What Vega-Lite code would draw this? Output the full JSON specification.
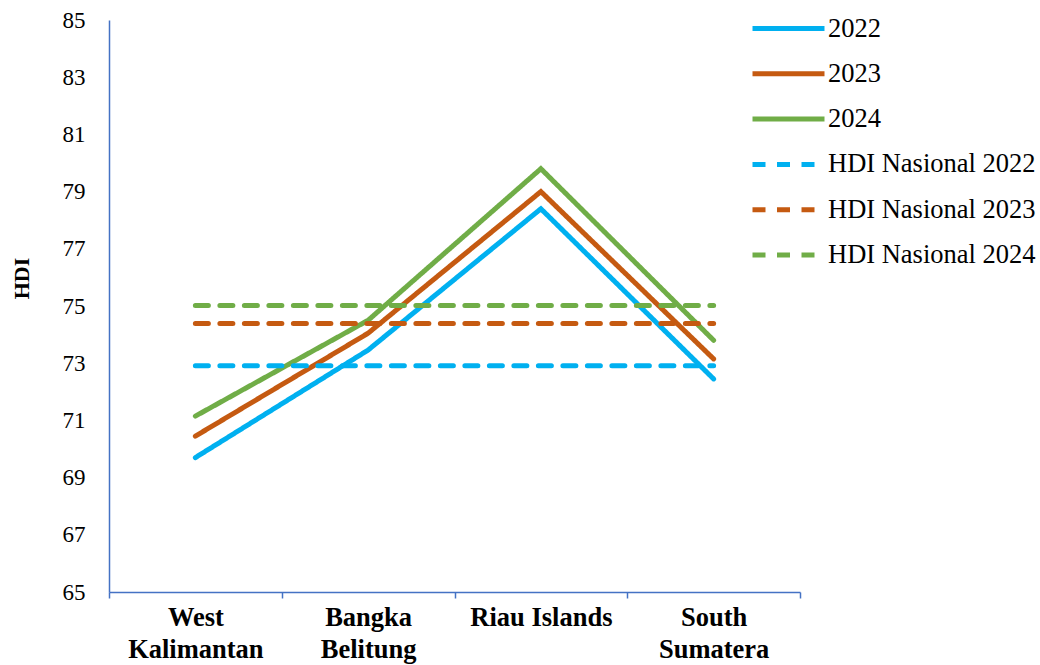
{
  "$schema": "https://vega.github.io/schema/vega-lite/v6.json",
  "width": 691,
  "height": 572,
  "autosize": {"type": "none"},
  "padding": {"left": 109, "top": 20, "right": 240, "bottom": 73},
  "background": "white",
  "config": {
    "view": {"stroke": null},
    "font": "Times New Roman, Liberation Serif, serif"
  },
  "data": {
    "values": [
      {"region": "West Kalimantan", "series": "2022", "hdi": 69.7},
      {"region": "Bangka Belitung", "series": "2022", "hdi": 73.46},
      {"region": "Riau Islands", "series": "2022", "hdi": 78.4},
      {"region": "South Sumatera", "series": "2022", "hdi": 72.45},
      {"region": "West Kalimantan", "series": "2023", "hdi": 70.45},
      {"region": "Bangka Belitung", "series": "2023", "hdi": 74.05},
      {"region": "Riau Islands", "series": "2023", "hdi": 79.0},
      {"region": "South Sumatera", "series": "2023", "hdi": 73.15},
      {"region": "West Kalimantan", "series": "2024", "hdi": 71.15},
      {"region": "Bangka Belitung", "series": "2024", "hdi": 74.5},
      {"region": "Riau Islands", "series": "2024", "hdi": 79.8},
      {"region": "South Sumatera", "series": "2024", "hdi": 73.8},
      {"region": "West Kalimantan", "series": "HDI Nasional 2022", "hdi": 72.91},
      {"region": "Bangka Belitung", "series": "HDI Nasional 2022", "hdi": 72.91},
      {"region": "Riau Islands", "series": "HDI Nasional 2022", "hdi": 72.91},
      {"region": "South Sumatera", "series": "HDI Nasional 2022", "hdi": 72.91},
      {"region": "West Kalimantan", "series": "HDI Nasional 2023", "hdi": 74.39},
      {"region": "Bangka Belitung", "series": "HDI Nasional 2023", "hdi": 74.39},
      {"region": "Riau Islands", "series": "HDI Nasional 2023", "hdi": 74.39},
      {"region": "South Sumatera", "series": "HDI Nasional 2023", "hdi": 74.39},
      {"region": "West Kalimantan", "series": "HDI Nasional 2024", "hdi": 75.02},
      {"region": "Bangka Belitung", "series": "HDI Nasional 2024", "hdi": 75.02},
      {"region": "Riau Islands", "series": "HDI Nasional 2024", "hdi": 75.02},
      {"region": "South Sumatera", "series": "HDI Nasional 2024", "hdi": 75.02}
    ]
  },
  "mark": {"type": "line", "strokeWidth": 5, "strokeCap": "round", "strokeJoin": "miter"},
  "encoding": {
    "x": {
      "field": "region",
      "type": "nominal",
      "sort": ["West Kalimantan", "Bangka Belitung", "Riau Islands", "South Sumatera"],
      "bandPosition": 0.5,
      "scale": {"type": "band", "paddingInner": 0, "paddingOuter": 0},
      "axis": {
        "title": null,
        "labelAngle": 0,
        "labelFont": "Times New Roman, Liberation Serif, serif",
        "labelFontSize": 26.5,
        "labelFontWeight": "bold",
        "labelColor": "#000000",
        "labelLineHeight": 32,
        "labelPadding": 6,
        "labelBaseline": "top",
        "labelExpr": "datum.label == 'Riau Islands' ? datum.label : split(datum.label, ' ')",
        "tickBand": "extent",
        "tickSize": 6,
        "tickWidth": 1.5,
        "tickColor": "#4472C4",
        "domainColor": "#4472C4",
        "domainWidth": 1.5,
        "grid": false
      }
    },
    "y": {
      "field": "hdi",
      "type": "quantitative",
      "scale": {"domain": [65, 85], "zero": false, "nice": false},
      "axis": {
        "title": "HDI",
        "titleFont": "Times New Roman, Liberation Serif, serif",
        "titleFontSize": 22,
        "titleFontWeight": "bold",
        "titleColor": "#000000",
        "titlePadding": 29,
        "titleY": 258,
        "values": [65, 67, 69, 71, 73, 75, 77, 79, 81, 83, 85],
        "labelFont": "Times New Roman, Liberation Serif, serif",
        "labelFontSize": 23,
        "labelColor": "#000000",
        "labelPadding": 24,
        "ticks": false,
        "domainColor": "#4472C4",
        "domainWidth": 1.5,
        "grid": false
      }
    },
    "color": {
      "field": "series",
      "type": "nominal",
      "scale": {
        "domain": ["2022", "2023", "2024", "HDI Nasional 2022", "HDI Nasional 2023", "HDI Nasional 2024"],
        "range": ["#00B0F0", "#C55A11", "#70AD47", "#00B0F0", "#C55A11", "#70AD47"]
      },
      "legend": {
        "title": null,
        "orient": "none",
        "legendX": 641,
        "legendY": -4,
        "symbolType": "stroke",
        "symbolSize": 5184,
        "symbolStrokeWidth": 5,
        "clipHeight": 25,
        "labelFont": "Times New Roman, Liberation Serif, serif",
        "labelFontSize": 26.5,
        "labelColor": "#000000",
        "labelOffset": 1,
        "labelLimit": 300,
        "rowPadding": 18.3,
        "padding": 0
      }
    },
    "strokeDash": {
      "field": "series",
      "type": "nominal",
      "scale": {
        "domain": ["2022", "2023", "2024", "HDI Nasional 2022", "HDI Nasional 2023", "HDI Nasional 2024"],
        "range": [[1, 0], [1, 0], [1, 0], [13, 11.5], [13, 11.5], [13, 11.5]]
      }
    }
  }
}
